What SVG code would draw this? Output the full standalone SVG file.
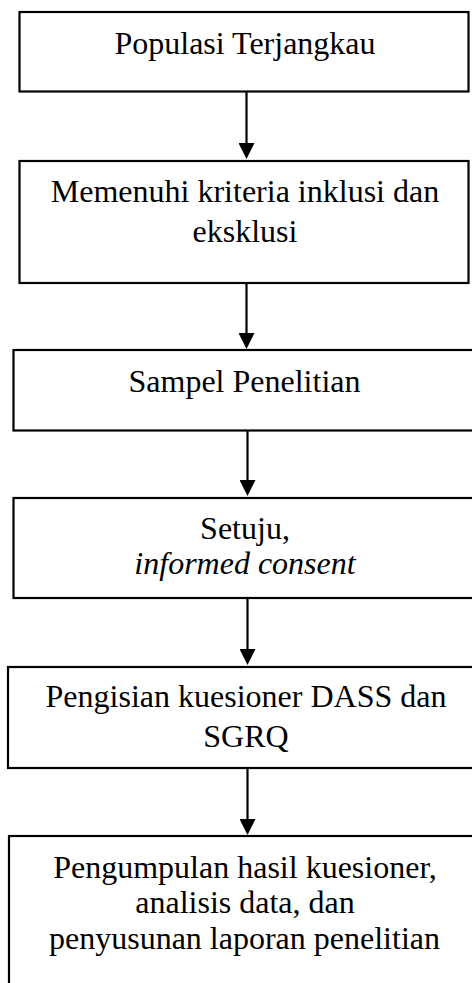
<svg xmlns="http://www.w3.org/2000/svg" width="472" height="983" viewBox="0 0 472 983">
<style>
.box{fill:#ffffff;stroke:#000000;stroke-width:2.2}
.t{font-family:"Liberation Serif","Times New Roman",serif;font-size:32px;fill:#000000;text-anchor:middle}
.i{font-style:italic}
.c{stroke:#000000;stroke-width:2.2;fill:none}
</style>
<defs>
<marker id="arr" viewBox="0 0 16 16" refX="12" refY="8" markerWidth="16" markerHeight="16" markerUnits="userSpaceOnUse" orient="auto">
<path d="M0,0 L16,8 L0,16 z" fill="#000000"/>
</marker>
</defs>
<rect x="0" y="0" width="472" height="983" fill="#ffffff"/>
<g id="connectors">
<line class="c" x1="246.5" y1="92" x2="246.5" y2="155" marker-end="url(#arr)"/>
<line class="c" x1="246.5" y1="283" x2="246.5" y2="345" marker-end="url(#arr)"/>
<line class="c" x1="247.5" y1="431" x2="247.5" y2="492" marker-end="url(#arr)"/>
<line class="c" x1="247.5" y1="598" x2="247.5" y2="661" marker-end="url(#arr)"/>
<line class="c" x1="247.5" y1="768" x2="247.5" y2="831" marker-end="url(#arr)"/>
</g>
<g id="n1">
<rect class="box" x="19.5" y="12" width="449" height="79.5"/>
<text class="t" x="245" y="54">Populasi Terjangkau</text>
</g>
<g id="n2">
<rect class="box" x="19.5" y="161" width="449" height="122"/>
<text class="t" x="245" y="202">Memenuhi kriteria inklusi dan</text>
<text class="t" x="245" y="242">eksklusi</text>
</g>
<g id="n3">
<rect class="box" x="13.5" y="350" width="470" height="80.5"/>
<text class="t" x="244.5" y="392">Sampel Penelitian</text>
</g>
<g id="n4">
<rect class="box" x="13.5" y="498" width="470" height="100"/>
<text class="t" x="245" y="539">Setuju,</text>
<text class="t i" x="245" y="574">informed consent</text>
</g>
<g id="n5">
<rect class="box" x="8" y="667" width="475" height="101"/>
<text class="t" x="246" y="707">Pengisian kuesioner DASS dan</text>
<text class="t" x="246" y="747">SGRQ</text>
</g>
<g id="n6">
<rect class="box" x="9" y="836" width="474" height="160"/>
<text class="t" x="245" y="878">Pengumpulan hasil kuesioner,</text>
<text class="t" x="245" y="913">analisis data, dan</text>
<text class="t" x="244.5" y="949">penyusunan laporan penelitian</text>
</g>
</svg>
